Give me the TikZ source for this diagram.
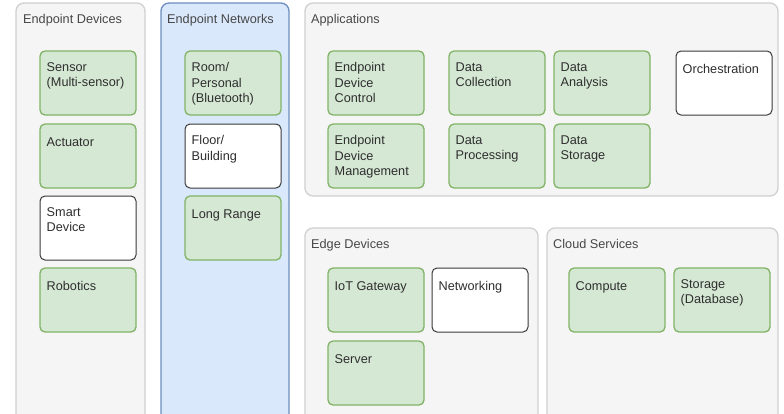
\documentclass[tikz,border=0pt]{standalone}
\usepackage{fontspec}
\setmainfont{Liberation Sans}
\definecolor{grpfill}{HTML}{F5F5F5}
\definecolor{grpline}{HTML}{D0D0D0}
\definecolor{netfill}{HTML}{DAE8FC}
\definecolor{netline}{HTML}{6C8EBF}
\definecolor{gfill}{HTML}{D5E8D4}
\definecolor{gline}{HTML}{82B366}
\definecolor{wline}{HTML}{3A3A3A}
\definecolor{ink}{HTML}{2E2E2E}
\definecolor{titleink}{HTML}{474747}

% component box: box node plus its top-left text
\newcommand\blk[5]{%
  \node[#1] (#2) at (#3,#4) {};
  \node[boxtext] (#2-t) at ([shift={(6.5,11.2)}]#2.north west) {#5};}

\begin{document}
\begin{tikzpicture}[x=1pt,y=-1pt,
  grp/.style={rectangle, anchor=north west, draw=grpline, fill=grpfill, line width=1.3pt,
    rounded corners=8pt, inner sep=0pt, outer sep=0pt},
  netgrp/.style={grp, draw=netline, fill=netfill},
  box/.style={rectangle, anchor=north west, rounded corners=5pt, line width=1.3pt,
    minimum width=96pt, minimum height=64pt, inner sep=0pt, outer sep=0pt},
  gbox/.style={box, draw=gline, fill=gfill},
  wbox/.style={box, draw=wline, fill=white, line width=1pt},
  boxtext/.style={anchor=north west, align=left, inner sep=0pt, text=ink,
    font=\fontsize{12.7}{15.5}\selectfont, execute at begin node=\strut},
  grptitle/.style={anchor=base west, inner sep=0pt, text=titleink,
    font=\fontsize{12.7}{15.5}\selectfont}]

\useasboundingbox (0,0) rectangle (784,413);
\clip (0,0) rectangle (784,413);

% group containers (their lower edges run past the page)
\node[grp, minimum width=129pt, minimum height=430pt] (devgrp) at (16,3) {};
\node[netgrp, minimum width=128pt, minimum height=430pt] (netgrp) at (161,3) {};
\node[grp, minimum width=473pt, minimum height=193pt] (appgrp) at (305,3) {};
\node[grp, minimum width=233pt, minimum height=200pt] (edgegrp) at (305,228) {};
\node[grp, minimum width=231pt, minimum height=200pt] (cloudgrp) at (547,228) {};

\node[grptitle] (devgrp-t) at ([shift={(7,20.8)}]devgrp.north west) {Endpoint Devices};
\node[grptitle] (netgrp-t) at ([shift={(6,20.8)}]netgrp.north west) {Endpoint Networks};
\node[grptitle] (appgrp-t) at ([shift={(6,20.8)}]appgrp.north west) {Applications};
\node[grptitle] (edgegrp-t) at ([shift={(6,20.8)}]edgegrp.north west) {Edge Devices};
\node[grptitle] (cloudgrp-t) at ([shift={(6,20.8)}]cloudgrp.north west) {Cloud Services};

% endpoint devices
\blk{gbox}{sensor}{40}{51}{Sensor\\(Multi-sensor)}
\blk{gbox}{actuator}{40}{124}{Actuator}
\blk{wbox}{smart}{40}{196}{Smart\\Device}
\blk{gbox}{robotics}{40}{268}{Robotics}

% endpoint networks
\blk{gbox}{room}{185}{51}{Room/\\Personal\\(Bluetooth)}
\blk{wbox}{floor}{185}{124}{Floor/\\Building}
\blk{gbox}{longrange}{185}{196}{Long Range}

% applications
\blk{gbox}{edctrl}{328}{51}{Endpoint\\Device\\Control}
\blk{gbox}{edmgmt}{328}{124}{Endpoint\\Device\\Management}
\blk{gbox}{collect}{449}{51}{Data\\Collection}
\blk{gbox}{process}{449}{124}{Data\\Processing}
\blk{gbox}{analysis}{554}{51}{Data\\Analysis}
\blk{gbox}{storage}{554}{124}{Data\\Storage}
\blk{wbox}{orch}{676}{51}{Orchestration}

% edge devices
\blk{gbox}{gateway}{328}{268}{IoT Gateway}
\blk{wbox}{networking}{432}{268}{Networking}
\blk{gbox}{server}{328}{341}{Server}

% cloud services
\blk{gbox}{compute}{569}{268}{Compute}
\blk{gbox}{database}{674}{268}{Storage\\(Database)}

\end{tikzpicture}
\end{document}
